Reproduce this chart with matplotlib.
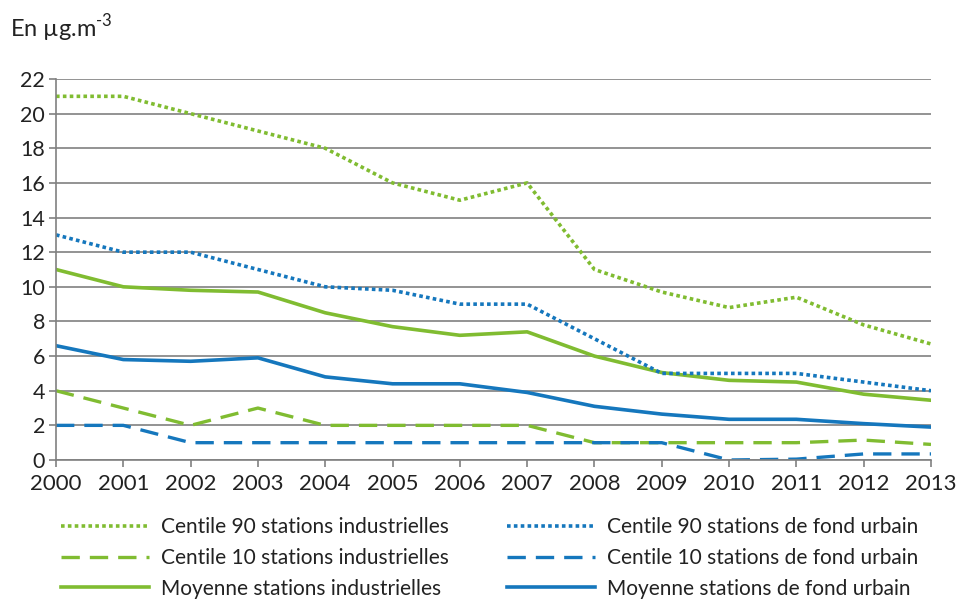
import matplotlib.pyplot as plt

plt.rcParams['font.family'] = ['Lato', 'DejaVu Sans']
plt.rcParams['mathtext.fontset'] = 'custom'
plt.rcParams['mathtext.rm'] = 'Lato'

# Years and series (µg/m3)
years = list(range(2000, 2014))
c90_ind = [21, 21, 20, 19, 18, 16, 15, 16, 11, 9.7, 8.8, 9.4, 7.8, 6.7]
c10_ind = [4, 3, 2, 3, 2, 2, 2, 2, 1, 1, 1, 1, 1.15, 0.9]
moy_ind = [11, 10, 9.8, 9.7, 8.5, 7.7, 7.2, 7.4, 6.0, 5.05, 4.6, 4.5, 3.8, 3.45]
c90_urb = [13, 12, 12, 11, 10, 9.8, 9, 9, 7, 5, 5, 5, 4.5, 4]
c10_urb = [2, 2, 1, 1, 1, 1, 1, 1, 1, 1, 0, 0.05, 0.35, 0.35]
moy_urb = [6.6, 5.8, 5.7, 5.9, 4.8, 4.4, 4.4, 3.9, 3.1, 2.65, 2.35, 2.35, 2.1, 1.9]

green = '#80bc31'
blue = '#1577bd'

fig = plt.figure(figsize=(9.57, 6.01), dpi=100)
ax = fig.add_axes([56 / 957, 1 - 460 / 601, (931 - 56) / 957, (460 - 79) / 601])

dot = (0, (1, 0.9))
dash = (0, (5.5, 3))
l1, = ax.plot(years, c90_ind, color=green, lw=2.6, linestyle=dot)
l2, = ax.plot(years, c10_ind, color=green, lw=2.4, linestyle=dash)
l3, = ax.plot(years, moy_ind, color=green, lw=2.6)
l4, = ax.plot(years, c90_urb, color=blue, lw=2.6, linestyle=dot)
l5, = ax.plot(years, c10_urb, color=blue, lw=2.4, linestyle=dash)
l6, = ax.plot(years, moy_urb, color=blue, lw=2.6)

ax.set_xlim(2000, 2013)
ax.set_ylim(0, 22)
ax.set_yticks(range(0, 23, 2))
ax.set_xticks(years)
ax.grid(axis='y', color='#808080', lw=1.2)
ax.set_axisbelow(True)
for s in ['top', 'right']:
    ax.spines[s].set_visible(False)
for s in ['left', 'bottom']:
    ax.spines[s].set_color('#808080')
    ax.spines[s].set_linewidth(1.2)
ax.tick_params(axis='both', colors='#808080', labelcolor='#222222',
               labelsize=16, length=5, width=1.2)
ax.tick_params(axis='x', pad=5)
ax.tick_params(axis='y', pad=3, labelsize=15.5)

fig.text(10 / 957, 1 - 28 / 601, r'En µg.m$^{\text{-}3}$', fontsize=17,
         color='#222222', va='center')

leg_kw = dict(loc='upper left', frameon=False, fontsize=15, handlelength=4.2,
              labelspacing=0.52, handletextpad=0.6, borderpad=0, borderaxespad=0)
leg1 = fig.legend([l1, l2, l3],
                  ['Centile 90 stations industrielles',
                   'Centile 10 stations industrielles',
                   'Moyenne stations industrielles'],
                  bbox_to_anchor=(61 / 957, 1 - 517 / 601), **leg_kw)
leg2 = fig.legend([l4, l5, l6],
                  ['Centile 90 stations de fond urbain',
                   'Centile 10 stations de fond urbain',
                   'Moyenne stations de fond urbain'],
                  bbox_to_anchor=(507 / 957, 1 - 517 / 601), **leg_kw)
for leg in (leg1, leg2):
    for t in leg.get_texts():
        t.set_color('#222222')

fig.savefig('out.png', dpi=100)
